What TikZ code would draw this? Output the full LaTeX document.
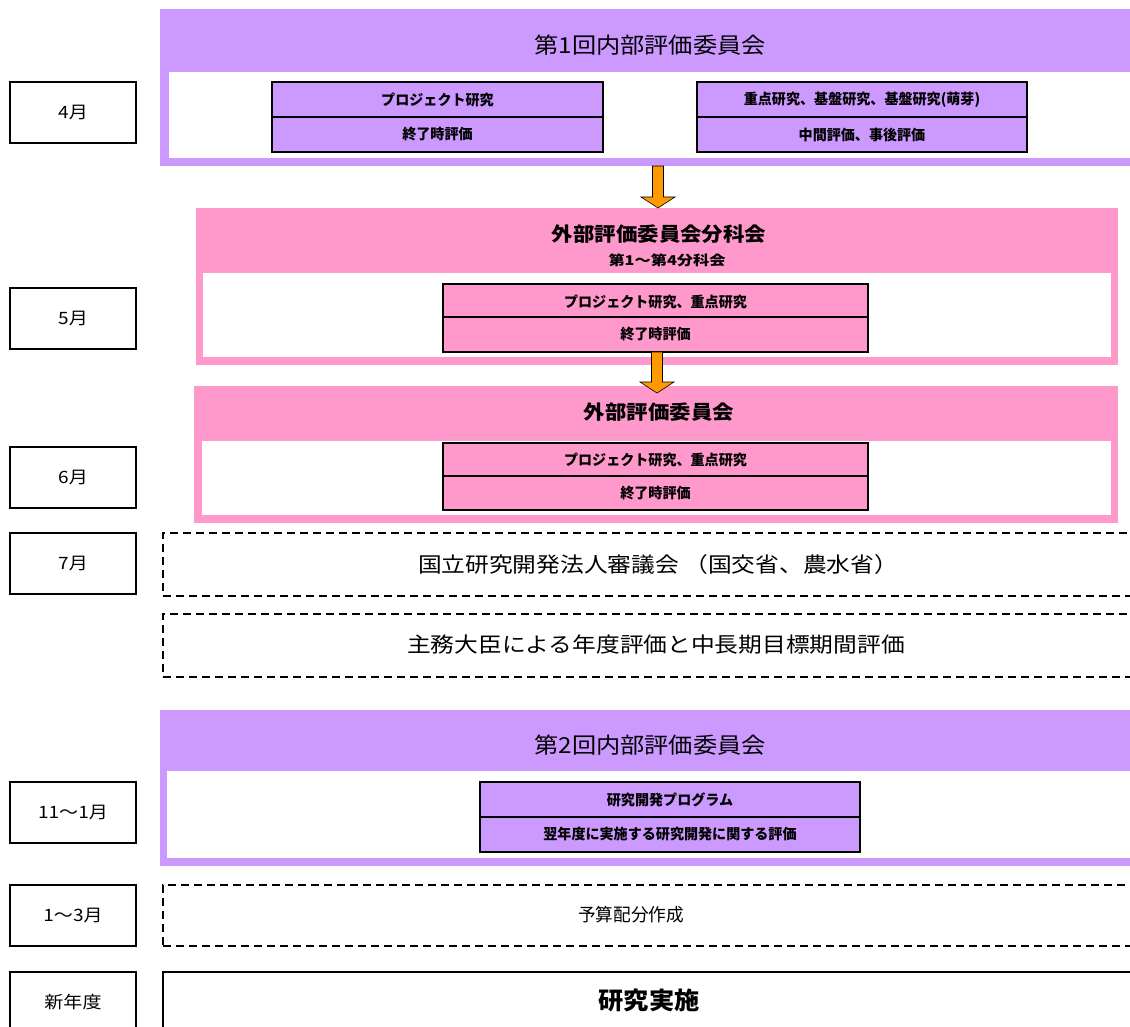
\documentclass[tikz,border=0pt]{standalone}
\usepackage{fontspec}
\setmainfont{Noto Sans CJK JP}
\usepackage{graphicx}
\usetikzlibrary{calc}
\definecolor{purp}{RGB}{204,153,255}
\definecolor{pnk}{RGB}{255,153,204}
\definecolor{orng}{RGB}{255,153,0}
\newcommand\fs[3]{\scalebox{#2}[1]{\fontsize{#1}{#1}\selectfont #3}}
\newcommand\orangearrow[2]{%
  \filldraw[fill=orng,draw=black,line width=0.6pt]
    ($(#1)+(-5.5,0)$) -- ($(#1)+(5.5,0)$) -- ($(#2)+(5.5,-11)$) -- ($(#2)+(17,-11)$)
    -- (#2) -- ($(#2)+(-17,-11)$) -- ($(#2)+(-5.5,-11)$) -- cycle;}
\begin{document}
\begin{tikzpicture}[x=1pt,y=-1pt,
  blk/.style={anchor=north west,inner sep=0pt,outer sep=0pt},
  month/.style={blk,draw=black,line width=1.3pt,fill=white,minimum width=126pt,minimum height=61pt},
  subbox/.style={blk,draw=black,line width=1.3pt,minimum height=35pt},
  dashbox/.style={blk,draw=black,line width=1.2pt,dash pattern=on 8pt off 5pt,minimum width=990pt},
  lbl/.style={inner sep=0pt,text=black}]
\useasboundingbox (0,0) rectangle (1130,1027);
\clip (0,0) rectangle (1130,1027);
\fill[white] (0,0) rectangle (1130,1027);

% month boxes
\node[month] (m4) at (10,82) {};
\node[lbl] (m4t) at (m4.center) {\fs{17}{1.12}{4月}};
\node[month] (m5) at (10,288) {};
\node[lbl] (m5t) at (m5.center) {\fs{17}{1.12}{5月}};
\node[month] (m6) at (10,447) {};
\node[lbl] (m6t) at (m6.center) {\fs{17}{1.12}{6月}};
\node[month] (m7) at (10,533) {};
\node[lbl] (m7t) at (m7.center) {\fs{17}{1.12}{7月}};
\node[month] (m11) at (10,782) {};
\node[lbl] (m11t) at (m11.center) {\fs{17}{1.12}{11～1月}};
\node[month] (m1) at (10,885) {};
\node[lbl] (m1t) at (m1.center) {\fs{17}{1.12}{1～3月}};
\node[month,minimum height=80pt] (mn) at (10,972) {};
\node[lbl] (mnt) at (73,1002) {\fs{17}{1.12}{新年度}};

% first internal committee
\node[blk,fill=purp,minimum width=990pt,minimum height=157pt] (c1) at (160,9) {};
\node[blk,fill=white,minimum width=980pt,minimum height=86pt] (c1in) at (169,72) {};
\node[lbl] (c1t) at (650,45) {\fs{22}{1.1}{第1回内部評価委員会}};
\node[subbox,fill=purp,minimum width=331pt] (p1a) at (272,82) {};
\node[subbox,fill=purp,minimum width=331pt] (p1b) at (272,117) {};
\node[lbl] (p1at) at (p1a.center) {\fs{14.5}{0.97}{\bfseries プロジェクト研究}};
\node[lbl] (p1bt) at (p1b.center) {\fs{14.5}{0.97}{\bfseries 終了時評価}};
\node[subbox,fill=purp,minimum width=330pt] (p2a) at (697,82) {};
\node[subbox,fill=purp,minimum width=330pt] (p2b) at (697,117) {};
\node[lbl] (p2at) at (p2a.center) {\fs{14.5}{0.97}{\bfseries 重点研究、基盤研究、基盤研究(萌芽)}};
\node[lbl] (p2bt) at (p2b.center) {\fs{14.5}{0.97}{\bfseries 中間評価、事後評価}};

% external subcommittee
\node[blk,fill=pnk,minimum width=922pt,minimum height=157pt] (c2) at (196,208) {};
\node[blk,fill=white,minimum width=908pt,minimum height=84pt] (c2in) at (203,273) {};
\node[lbl] (c2t) at (659,234) {\fs{19.5}{1.1}{\bfseries 外部評価委員会分科会}};
\node[lbl] (c2s) at (667,260) {\fs{13.5}{1.2}{\bfseries 第1～第4分科会}};
\node[subbox,fill=pnk,minimum width=425pt] (q1a) at (443,284) {};
\node[subbox,fill=pnk,minimum width=425pt,minimum height=35pt] (q1b) at (443,317) {};
\node[lbl] (q1at) at (q1a.center) {\fs{14.5}{0.97}{\bfseries プロジェクト研究、重点研究}};
\node[lbl] (q1bt) at (q1b.center) {\fs{14.5}{0.97}{\bfseries 終了時評価}};

% external committee
\node[blk,fill=pnk,minimum width=924pt,minimum height=137pt] (c3) at (194,386) {};
\node[blk,fill=white,minimum width=909pt,minimum height=74pt] (c3in) at (202,441) {};
\node[lbl] (c3t) at (659,412) {\fs{19.5}{1.1}{\bfseries 外部評価委員会}};
\node[subbox,fill=pnk,minimum width=425pt,minimum height=33pt] (q2a) at (443,443) {};
\node[subbox,fill=pnk,minimum width=425pt,minimum height=34pt] (q2b) at (443,476) {};
\node[lbl] (q2at) at (q2a.center) {\fs{14.5}{0.97}{\bfseries プロジェクト研究、重点研究}};
\node[lbl] (q2bt) at (q2b.center) {\fs{14.5}{0.97}{\bfseries 終了時評価}};

% arrows
\coordinate (a1s) at (658,166);
\coordinate (a1e) at (658,208);
\orangearrow{a1s}{a1e}
\coordinate (a2s) at (657,352);
\coordinate (a2e) at (657,393);
\orangearrow{a2s}{a2e}

% dashed boxes
\node[dashbox,minimum height=63pt] (d1) at (163,533) {};
\node[lbl] (d1t) at (658,565) {\fs{21}{1.13}{国立研究開発法人審議会 （国交省、農水省）}};
\node[dashbox,minimum height=63pt] (d2) at (163,614) {};
\node[lbl] (d2t) at (656,645) {\fs{21}{1.13}{主務大臣による年度評価と中長期目標期間評価}};

% second internal committee
\node[blk,fill=purp,minimum width=990pt,minimum height=156pt] (c4) at (160,710) {};
\node[blk,fill=white,minimum width=980pt,minimum height=87pt] (c4in) at (167,771) {};
\node[lbl] (c4t) at (650,745) {\fs{22}{1.1}{第2回内部評価委員会}};
\node[subbox,fill=purp,minimum width=380pt] (r1a) at (480,782) {};
\node[subbox,fill=purp,minimum width=380pt] (r1b) at (480,817) {};
\node[lbl] (r1at) at (r1a.center) {\fs{14.5}{0.97}{\bfseries 研究開発プログラム}};
\node[lbl] (r1bt) at (r1b.center) {\fs{14.5}{0.97}{\bfseries 翌年度に実施する研究開発に関する評価}};

% budget
\node[dashbox,minimum height=61pt] (d3) at (163,885) {};
\node[lbl] (d3t) at (631,915) {\fs{18}{0.98}{予算配分作成}};

% research implementation
\node[blk,draw=black,line width=1.3pt,minimum width=990pt,minimum height=80pt] (d4) at (163,972) {};
\node[lbl] (d4t) at (649,1000) {\fs{24}{1.05}{\bfseries 研究実施}};
\end{tikzpicture}
\end{document}
